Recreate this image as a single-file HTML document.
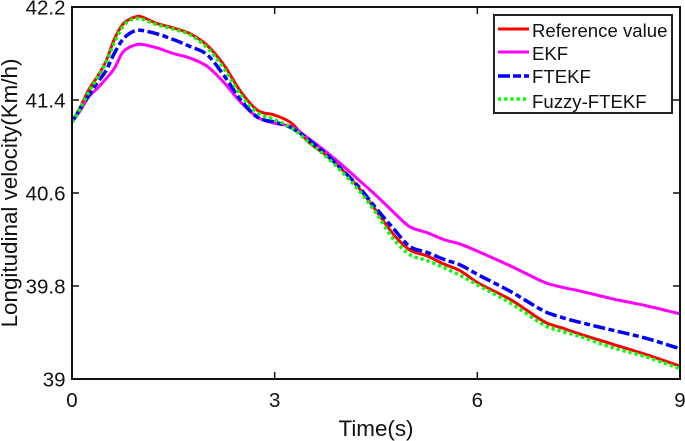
<!DOCTYPE html>
<html>
<head>
<meta charset="utf-8">
<style>
html,body{margin:0;padding:0;background:#fff;}
svg{display:block;}
text{font-family:"Liberation Sans",sans-serif;fill:#111;}
</style>
</head>
<body>
<svg id="chart" width="685" height="441" viewBox="0 0 685 441" xmlns="http://www.w3.org/2000/svg">
  <g id="series-layer"></g>
  <g id="tick-layer"></g>
  <rect x="72" y="7" width="608" height="372" fill="none" stroke="#111" stroke-width="2"/>
  <text x="376" y="436" font-size="22.4" text-anchor="middle">Time(s)</text>
  <text transform="translate(17,193) rotate(-90)" font-size="22.4" text-anchor="middle">Longitudinal velocity(Km/h)</text>
  <g>
    <rect x="494" y="15" width="178" height="98" fill="#fff" stroke="#222" stroke-width="2"/>
    <line x1="498" x2="529" y1="29" y2="29" stroke="#ff0000" stroke-width="3"/>
    <text x="532" y="37" font-size="18.6">Reference value</text>
    <line x1="498" x2="529" y1="52" y2="52" stroke="#ff00ff" stroke-width="3"/>
    <text x="532" y="60" font-size="18.6">EKF</text>
    <line x1="498" x2="529" y1="76" y2="76" stroke="#0000ff" stroke-width="3.5" stroke-dasharray="12 3 8 3 5"/>
    <text x="532" y="83" font-size="18.6">FTEKF</text>
    <line x1="498" x2="529" y1="99" y2="99" stroke="#00ff00" stroke-width="3.5" stroke-dasharray="3.2 3"/>
    <text x="532" y="108" font-size="18.6">Fuzzy-FTEKF</text>
  </g>
</svg>
<script>
const times = [0,0.125,0.25,0.375,0.5,0.625,0.75,0.875,1,1.25,1.5,1.75,2,2.25,2.5,2.75,3,3.25,3.5,3.75,4,4.25,4.5,4.75,5,5.25,5.5,5.75,6,6.5,7,7.25,7.5,8,8.5,9];
const referenceValues = [41.21,41.34,41.49,41.60,41.73,41.92,42.05,42.10,42.12,42.06,42.02,41.97,41.87,41.70,41.47,41.31,41.27,41.20,41.04,40.93,40.80,40.64,40.45,40.25,40.11,40.06,39.99,39.93,39.83,39.68,39.49,39.44,39.39,39.30,39.21,39.11];
const ekfValues = [41.21,41.31,41.43,41.50,41.58,41.67,41.81,41.86,41.88,41.85,41.80,41.76,41.69,41.55,41.38,41.25,41.20,41.17,41.07,40.96,40.84,40.71,40.58,40.44,40.31,40.26,40.20,40.16,40.10,39.97,39.83,39.79,39.76,39.69,39.63,39.56];
const ftekfValues = [41.21,41.33,41.44,41.55,41.65,41.80,41.92,41.98,42.00,41.97,41.92,41.86,41.79,41.61,41.40,41.25,41.21,41.16,41.06,40.94,40.80,40.65,40.47,40.30,40.14,40.09,40.03,39.98,39.90,39.75,39.58,39.53,39.49,39.42,39.35,39.26];
const fuzzyValues = [41.21,41.33,41.47,41.59,41.72,41.89,42.03,42.09,42.10,42.05,42.01,41.96,41.85,41.67,41.44,41.29,41.23,41.16,41.04,40.92,40.78,40.62,40.43,40.21,40.07,40.02,39.96,39.89,39.81,39.65,39.46,39.41,39.37,39.27,39.19,39.09];
const xTickValues = [0,3,6,9];
const yTickValues = [39,39.8,40.6,41.4,42.2];

const SVG_NS = 'http://www.w3.org/2000/svg';
function xScale(t){ return 72 + (t - 0) / 9 * 608; }
function yScale(v){ return 379 - (v - 39) / 3.2 * 372; }

function smoothPath(ts, vs){
  const p = ts.map((t,i)=>[xScale(t), yScale(vs[i])]);
  let d = 'M' + p[0][0].toFixed(2) + ' ' + p[0][1].toFixed(2);
  for(let i=0;i<p.length-1;i++){
    const a=p[Math.max(0,i-1)], b=p[i], c=p[i+1], e=p[Math.min(p.length-1,i+2)];
    const h=(c[0]-b[0]);
    const m1=(c[1]-a[1])/((c[0]-a[0])||1), m2=(e[1]-b[1])/((e[0]-b[0])||1);
    d += 'C'+(b[0]+h/3).toFixed(2)+' '+(b[1]+m1*h/3).toFixed(2)+' '+(c[0]-h/3).toFixed(2)+' '+(c[1]-m2*h/3).toFixed(2)+' '+c[0].toFixed(2)+' '+c[1].toFixed(2);
  }
  return d;
}

const seriesLayer = document.getElementById('series-layer');
function drawSeries(name, vs, color, width, dash){
  const path = document.createElementNS(SVG_NS,'path');
  
  
  path.setAttribute('d', smoothPath(times, vs));
  path.setAttribute('fill', 'none');
  path.setAttribute('stroke', color);
  path.setAttribute('stroke-width', width);
  if(dash) path.setAttribute('stroke-dasharray', dash);
  seriesLayer.appendChild(path);
}
drawSeries('series-reference', referenceValues, '#ff0000', 3, '');
drawSeries('series-ekf', ekfValues, '#ff00ff', 3, '');
drawSeries('series-ftekf', ftekfValues, '#0000ff', 3.5, '12 3.5 6 3.5');
drawSeries('series-fuzzy-ftekf', fuzzyValues, '#00ff00', 3.5, '3.2 3');

const tickLayer = document.getElementById('tick-layer');
function drawTick(name, x1, y1, x2, y2){
  const line = document.createElementNS(SVG_NS,'line');
  
  
  line.setAttribute('x1', x1);
  line.setAttribute('y1', y1);
  line.setAttribute('x2', x2);
  line.setAttribute('y2', y2);
  line.setAttribute('stroke', '#111');
  line.setAttribute('stroke-width', 1.5);
  tickLayer.appendChild(line);
}
function drawLabel(name, x, y, anchor, str){
  const label = document.createElementNS(SVG_NS,'text');
  
  
  label.setAttribute('x', x);
  label.setAttribute('y', y);
  label.setAttribute('text-anchor', anchor);
  label.setAttribute('font-size', 20.5);
  label.textContent = str;
  tickLayer.appendChild(label);
}
xTickValues.forEach(t=>{
  const x = xScale(t);
  drawTick('x-tick', x, 379, x, 372);
  drawTick('x-tick-top', x, 7, x, 14);
  drawLabel('x-tick-label', x, 407, 'middle', String(t));
});
yTickValues.forEach(v=>{
  const y = yScale(v);
  drawTick('y-tick', 72, y, 79, y);
  drawTick('y-tick-right', 680, y, 673, y);
  drawLabel('y-tick-label', 65.5, y + 7.5, 'end', String(v));
});
</script>
</body>
</html>
